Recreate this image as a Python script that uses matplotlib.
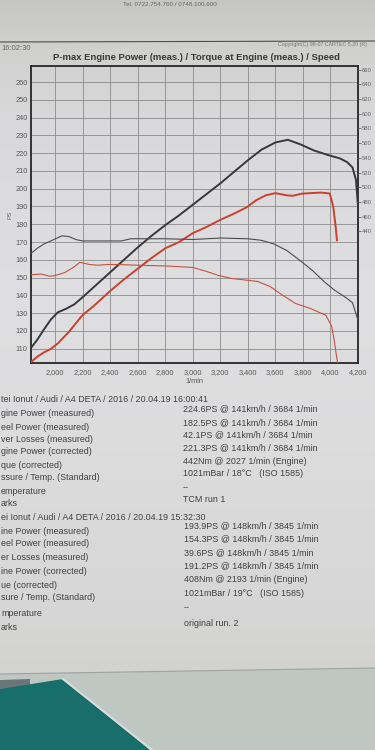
import matplotlib
matplotlib.use("Agg")
import matplotlib.pyplot as plt
import numpy as np
from matplotlib.patches import Polygon
from matplotlib.ticker import FuncFormatter

plt.rcParams['font.family'] = ['Liberation Sans', 'DejaVu Sans']

# ---------------- data ----------------
# Run 1 (TCM run 1): engine power [PS]
rpm_pow1 = [1825, 1870, 1920, 1970, 2020, 2080, 2140, 2200, 2300, 2400, 2500, 2600,
            2700, 2800, 2900, 3000, 3100, 3200, 3300, 3400, 3500, 3600, 3690, 3780,
            3880, 3980, 4070, 4120, 4160, 4185, 4200]
pow1 = [110.5, 115, 121, 126.5, 130.5, 132.5, 135, 139, 146, 153, 160, 167,
        173.5, 179.5, 185, 191, 197, 203, 209.5, 216, 222, 226, 227.5, 225,
        221.5, 219, 217, 215, 212, 205, 190]

# Run 2 (original run 2): engine power [PS]
rpm_pow2 = [1825, 1870, 1920, 1970, 2020, 2100, 2200, 2280, 2400, 2500, 2600, 2700,
            2800, 2900, 3000, 3100, 3200, 3300, 3390, 3460, 3530, 3600, 3680, 3725,
            3790, 3870, 3935, 3995, 4020, 4038, 4047]
pow2 = [102.5, 105.5, 108, 110, 113, 119.5, 129, 134, 142.5, 149, 155, 161,
        166.5, 170, 175, 178.5, 182.5, 186, 189.5, 193.5, 196.3, 197.5, 196.3, 196,
        197.2, 197.6, 197.8, 197.3, 190, 178.5, 171]

# Run 1: torque at engine [Nm]
rpm_tq1 = [1825, 1870, 1920, 1980, 2050, 2100, 2150, 2200, 2300, 2480, 2550, 2700,
           2800, 3000, 3200, 3400, 3495, 3589, 3683, 3775, 3868, 3958, 4030, 4112,
           4160, 4200]
tq1 = [410, 417, 423, 428, 434, 433, 429, 427, 427, 427, 430, 430,
       430, 429, 431, 430, 428, 423, 414, 401, 387, 371, 360, 350,
       343, 319]

# Run 2: torque at engine [Nm]
rpm_tq2 = [1825, 1900, 1960, 2000, 2070, 2140, 2180, 2250, 2310, 2380, 2450, 2600,
           2800, 3000, 3093, 3188, 3282, 3376, 3469, 3562, 3654, 3746, 3856, 3966,
           4009, 4027, 4048, 4055]
tq2 = [381, 382, 379, 380, 384, 392, 398, 395, 394, 395, 395, 394,
       393, 391, 386, 380, 376, 374, 372, 365, 353, 342, 335, 326,
       311, 292, 265, 256]

x_ticks = [2000, 2200, 2400, 2600, 2800, 3000, 3200, 3400, 3600, 3800, 4000, 4200]
ps_ticks = [110, 120, 130, 140, 150, 160, 170, 180, 190, 200, 210, 220, 230, 240, 250, 260]
nm_ticks = [440, 460, 480, 500, 520, 540, 560, 580, 600, 620, 640, 660]

title = "P-max Engine Power (meas.) / Torque at Engine (meas.) / Speed"

# table texts as visible on the (cropped) printout
head1 = "tei Ionut / Audi / A4 DETA / 2016 / 20.04.19 16:00:41"
labels1 = ["gine Power (measured)", "eel Power (measured)", "ver Losses (measured)",
           "gine Power (corrected)", "que (corrected)", "ssure / Temp. (Standard)",
           "emperature", "arks"]
values1 = ["224.6PS @ 141km/h / 3684 1/min", "182.5PS @ 141km/h / 3684 1/min",
           "42.1PS @ 141km/h / 3684 1/min", "221.3PS @ 141km/h / 3684 1/min",
           "442Nm @ 2027 1/min (Engine)", "1021mBar / 18°C   (ISO 1585)", "--", "TCM run 1"]
head2 = "ei Ionut / Audi / A4 DETA / 2016 / 20.04.19 15:32:30"
labels2 = ["ine Power (measured)", "eel Power (measured)", "er Losses (measured)",
           "ine Power (corrected)", "ue (corrected)", "sure / Temp. (Standard)",
           "mperature", "arks"]
values2 = ["193.9PS @ 148km/h / 3845 1/min", "154.3PS @ 148km/h / 3845 1/min",
           "39.6PS @ 148km/h / 3845 1/min", "191.2PS @ 148km/h / 3845 1/min",
           "408Nm @ 2193 1/min (Engine)", "1021mBar / 19°C   (ISO 1585)", "--", "original run. 2"]

# ---------------- figure ----------------
W, H = 375, 750
fig = plt.figure(figsize=(W / 100, H / 100), dpi=100)

bg = fig.add_axes([0, 0, 1, 1], zorder=0)
bg.set_xlim(0, W)
bg.set_ylim(H, 0)
bg.axis('off')

# paper background gradient
anch_y = [0, 40, 120, 300, 450, 600, 675]
anch_c = np.array([[198, 198, 196], [207, 207, 206], [217, 217, 219], [223, 223, 225],
                   [220, 220, 221], [215, 215, 215], [210, 210, 208]]) / 255.0
yy = np.arange(H)
img = np.stack([np.interp(yy, anch_y, anch_c[:, k]) for k in range(3)], axis=-1)
img = img[:, None, :].repeat(4, axis=1)
bg.imshow(img, extent=[0, W, H, 0], aspect='auto', interpolation='bilinear', zorder=0)

# below the paper: glass table and teal cloth
bg.add_patch(Polygon([[0, 674], [W, 668], [W, H], [0, H]], closed=True,
                     facecolor=(0.75, 0.78, 0.76), edgecolor='none', zorder=1))
bg.add_patch(Polygon([[0, 680], [30, 679], [30, 688], [0, 689]], closed=True,
                     facecolor=(0.42, 0.46, 0.48), edgecolor='none', zorder=2))
bg.add_patch(Polygon([[0, 689], [63, 679], [150, H], [0, H]], closed=True,
                     facecolor=(0.09, 0.43, 0.42), edgecolor='none', zorder=2))
bg.plot([63, 152], [679, H], color=(0.85, 0.87, 0.85), lw=1.5, zorder=3)
bg.plot([0, W], [674, 668], color=(0.62, 0.64, 0.63), lw=0.8, zorder=3)

# header line
bg.plot([0, W], [42, 41], color=(0.3, 0.3, 0.3), lw=0.8, zorder=3)

txtc = (0.25, 0.25, 0.25)
bg.text(170, 4, "Tel. 0722.754.760 / 0748.100.600", fontsize=4.5, color=(0.4, 0.4, 0.4),
        ha='center', va='center', zorder=4)
bg.text(1, 48, "16:02:30", fontsize=5.5, color=(0.4, 0.4, 0.4), ha='left', va='center', zorder=4)
bg.text(278, 44.5, "Copyright(C) 98-07 CARTEC 5.20 (R)", fontsize=3.8, color=(0.45, 0.45, 0.45),
        ha='left', va='center', zorder=4)
bg.text(196, 58, title, fontsize=6.8, fontweight='bold', color=(0.22, 0.22, 0.22),
        ha='center', va='center', zorder=4)

# result table
lab_y1 = [413, 427, 439, 452, 465, 477, 491, 503]
val_y1 = [409, 423, 435, 448, 461, 474, 488, 500]
lab_y2 = [531, 544, 557, 571, 585, 598, 613, 627]
val_y2 = [526, 539, 553, 566, 580, 594, 608, 623]
fs = 6.4
bg.text(1, 400, head1, fontsize=fs, color=txtc, ha='left', va='center', zorder=4)
for s, y in zip(labels1, lab_y1):
    bg.text(1, y, s, fontsize=fs, color=txtc, ha='left', va='center', zorder=4)
for s, y in zip(values1, val_y1):
    bg.text(183, y, s, fontsize=fs, color=txtc, ha='left', va='center', zorder=4)
bg.text(1, 517, head2, fontsize=fs, color=txtc, ha='left', va='center', zorder=4)
for s, y in zip(labels2, lab_y2):
    bg.text(1, y, s, fontsize=fs, color=txtc, ha='left', va='center', zorder=4)
for s, y in zip(values2, val_y2):
    bg.text(184, y, s, fontsize=fs, color=txtc, ha='left', va='center', zorder=4)

# ---------------- chart ----------------
L, R, T, B = 31, 358, 66, 363
ax = fig.add_axes([L / W, 1 - B / H, (R - L) / W, (B - T) / H], zorder=2)
ax.set_facecolor('none')
ax.set_xlim(1825, 4200)
ax.set_ylim(102, 269)
ax.set_xticks(x_ticks)
ax.set_yticks(ps_ticks)
ax.xaxis.set_major_formatter(FuncFormatter(lambda v, p: f"{int(v):,}"))
ax.grid(True, color=(0.55, 0.55, 0.55), lw=0.6)
ax.set_axisbelow(True)
ax.tick_params(axis='both', length=0, labelsize=5.3, labelcolor=(0.35, 0.35, 0.35))
ax.tick_params(axis='x', pad=4)
ax.tick_params(axis='y', pad=2.5)
for sp in ax.spines.values():
    sp.set_color((0.15, 0.15, 0.15))
    sp.set_linewidth(1.3)
ax.set_xlabel("1/min", fontsize=5.3, color=(0.35, 0.35, 0.35), labelpad=1.5)
ax.set_ylabel("PS", fontsize=4.5, color=(0.4, 0.4, 0.4), labelpad=2)

ax.plot(rpm_pow1, pow1, color=(0.22, 0.22, 0.22), lw=1.4, zorder=4)
ax.plot(rpm_pow2, pow2, color=(0.80, 0.25, 0.18), lw=1.4, zorder=4)

ax2 = ax.twinx()
ax2.set_ylim(261, 665)
ax2.set_yticks(nm_ticks)
ax2.tick_params(axis='y', length=2.0, width=0.6, color=(0.4, 0.4, 0.4), pad=0.8,
                labelsize=4.3, labelcolor=(0.4, 0.4, 0.4))
for sp in ax2.spines.values():
    sp.set_visible(False)
ax2.plot(rpm_tq1, tq1, color=(0.3, 0.3, 0.3), lw=0.8, zorder=4)
ax2.plot(rpm_tq2, tq2, color=(0.78, 0.32, 0.25), lw=0.8, zorder=4)
ax2.set_xlim(1825, 4200)

fig.savefig("out.png", dpi=100)
